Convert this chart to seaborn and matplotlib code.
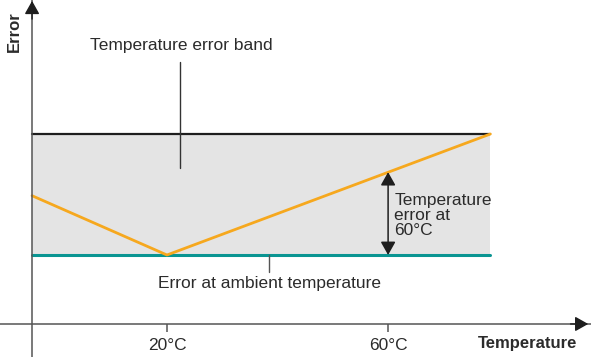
import matplotlib
matplotlib.use("Agg")
import matplotlib.pyplot as plt
import seaborn as sns
import pandas as pd

# schematic values
temps = [-4.4, 20, 78.5]          # temperature (°C) of the orange curve corners
temp_error = [1.98, 1.0, 3.0]     # error of the orange curve
band_temps = [-4.4, 78.5]
band_low = [1.0, 1.0]             # error at ambient temperature
band_high = [3.0, 3.0]            # top of the error band
tick_temps = [20, 60]
tick_labels = ["20°C", "60°C"]
error_at_60 = 2.37

sns.set_style("white")
plt.rcParams["font.family"] = ["Liberation Sans", "DejaVu Sans"]

fig = plt.figure(figsize=(5.91, 3.57), dpi=100)
ax = fig.add_axes([0, 0, 1, 1])
ax.set_xlim(-10.2, 96.7)
ax.set_ylim(-0.686, 5.215)

txt = "#2b2b2b"
axcol = "#555555"
fs = 12.5

ax.fill_between(band_temps, band_low, band_high, color="#e4e4e4", lw=0)

sns.lineplot(x=band_temps, y=band_high, ax=ax, color="#1e1e1e", lw=1.6)
sns.lineplot(x=band_temps, y=band_low, ax=ax, color="#0a9592", lw=2.2)
curve = pd.DataFrame({"temp": temps, "err": temp_error})
sns.lineplot(data=curve, x="temp", y="err", ax=ax, color="#f6a81e", lw=2, sort=False)
ax.set_xlabel("")
ax.set_ylabel("")

# axes crossing near the lower left
for s in ["top", "right"]:
    ax.spines[s].set_visible(False)
ax.spines["left"].set_position(("data", -4.4))
ax.spines["bottom"].set_position(("data", -0.14))
for s in ["left", "bottom"]:
    ax.spines[s].set_color(axcol)
    ax.spines[s].set_linewidth(1.1)

ax.set_xticks(tick_temps)
ax.set_xticklabels(tick_labels, fontsize=fs, color=txt)
ax.set_yticks([])
ax.tick_params(axis="x", direction="out", length=6, width=1.1, color=axcol, pad=4, bottom=True)

head = dict(arrowstyle="-|>,head_length=0.8,head_width=0.45", color="#1e1e1e",
            lw=1, shrinkA=0, shrinkB=0, mutation_scale=10)
ax.annotate("", xy=(-4.4, 5.2), xytext=(-4.4, 4.9), arrowprops=head, annotation_clip=False)
ax.annotate("", xy=(96.2, -0.14), xytext=(93.0, -0.14), arrowprops=head, annotation_clip=False)

# double arrow at 60°C
ax.annotate("", xy=(60, 1.0), xytext=(60, error_at_60),
            arrowprops=dict(arrowstyle="<|-|>,head_length=0.8,head_width=0.45",
                            color="#1e1e1e", lw=1.1, shrinkA=0, shrinkB=0, mutation_scale=10))
ax.text(61.1, 1.66, "Temperature\nerror at\n60°C", fontsize=fs, color=txt,
        ha="left", va="center", linespacing=1.0)

# leader lines and labels
ax.plot([22.35, 22.35], [2.44, 4.19], color="#333333", lw=1)
ax.text(6.06, 4.47, "Temperature error band", fontsize=fs, color=txt, ha="left", va="center")
ax.plot([38.5, 38.5], [1.0, 0.72], color="#555555", lw=1)
ax.text(38.6, 0.537, "Error at ambient temperature", fontsize=fs, color=txt, ha="center", va="center")

ax.text(94.2, -0.463, "Temperature", fontsize=12, fontweight="bold", color=txt, ha="right", va="center")
ax.text(-7.51, 4.70, "Error", fontsize=12, fontweight="bold", color=txt, ha="center", va="center",
        rotation=90)

fig.savefig("out.png", dpi=100)
